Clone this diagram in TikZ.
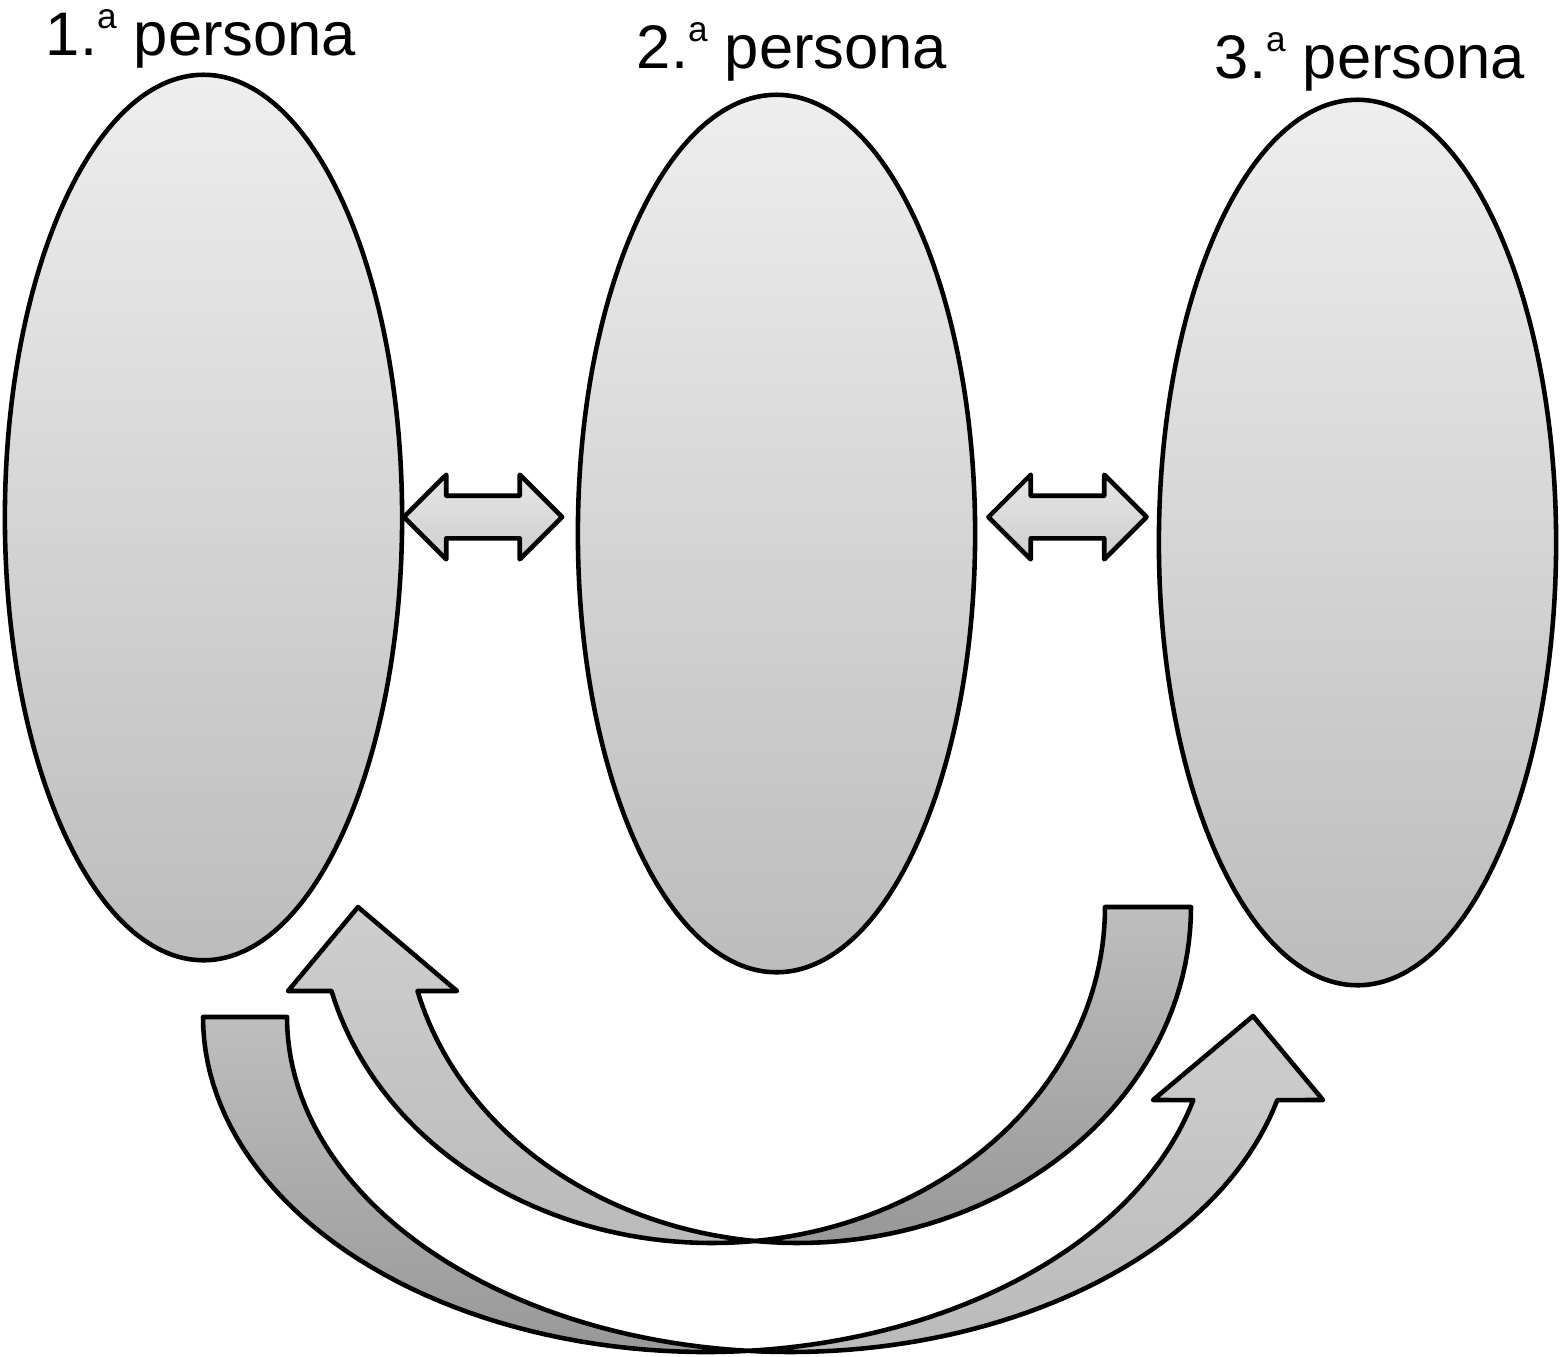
\documentclass[tikz,border=0pt]{standalone}
\usepackage{fontspec}
\setmainfont{Liberation Sans}
\usetikzlibrary{shapes.geometric,shapes.arrows}
\definecolor{cellipsetop}{RGB}{238,238,238}
\definecolor{cellipsebot}{RGB}{188,188,188}
\definecolor{clinktop}{RGB}{230,230,230}
\definecolor{clinkbot}{RGB}{205,205,205}
\definecolor{cbacktop}{RGB}{190,190,190}
\definecolor{cbackbot}{RGB}{152,152,152}
\definecolor{cfronttop}{RGB}{206,206,206}
\definecolor{cfrontbot}{RGB}{186,186,186}
\newcommand{\ordsup}{\raisebox{7.4pt}{\fontsize{10}{10}\selectfont a}}

\begin{document}
\begin{tikzpicture}[x=0.01cm,y=-0.01cm,line join=round,
  persona/.style={ellipse,draw,line width=1.3pt,inner sep=0pt,
    minimum width=3.97cm,minimum height=8.85cm,
    top color=cellipsetop,bottom color=cellipsebot},
  linkarrow/.style={double arrow,draw,line width=1.3pt,
    inner xsep=0pt,inner ysep=0.19cm,
    minimum height=1.58cm,minimum width=0.84cm,
    double arrow head extend=0.21cm,double arrow tip angle=90,
    top color=clinktop,bottom color=clinkbot},
  curve/.style={draw,line width=1.3pt},
  ptitle/.style={anchor=base,font=\fontsize{17.5}{20}\selectfont}]
\useasboundingbox (0,0) rectangle (1560,1356);
% ---------- the three persons ----------
\node[persona] (p1) at (203.5,517.5) {};
\node[persona,minimum height=8.77cm] (p2) at (776.5,533.5) {};
\node[persona] (p3) at (1357.5,542.5) {};
\node[ptitle] (t1) at (201,55) {1.\ordsup\ persona};
\node[ptitle] (t2) at (792,68) {2.\ordsup\ persona};
\node[ptitle] (t3) at (1370,78) {3.\ordsup\ persona};
% ---------- two-way links ----------
\node[linkarrow] (l12) at (483,517) {};
\node[linkarrow] (l23) at (1067.5,517) {};
% ---------- curved arrow 3 -> 1 (upper) ----------
\draw[curve,top color=cbacktop,bottom color=cbackbot]
  (1105,907) -- (1191,907)
  -- plot[domain=0:96.28,samples=50] ({798+393*cos(\x)},{907+336*sin(\x)})
  -- plot[domain=0:83.72,samples=50] ({712+393*cos(83.72-\x)},{907+336*sin(83.72-\x)})
  -- cycle;
\draw[curve,top color=cfronttop,bottom color=cfrontbot]
  plot[domain=83.72:165.52,samples=50] ({712+393*cos(\x)},{907+336*sin(\x)})
  -- (288,991) -- (358,907) -- (457,991)
  -- plot[domain=0:69.24,samples=50] ({798+393*cos(165.52-\x)},{907+336*sin(165.52-\x)})
  -- cycle;
% ---------- curved arrow 1 -> 3 (lower) ----------
\draw[curve,top color=cbacktop,bottom color=cbackbot]
  (203,1017) -- (287,1017)
  -- plot[domain=0:85.21,samples=50] ({790+503*cos(180-\x)},{1017+335*sin(180-\x)})
  -- plot[domain=85.21:180,samples=50] ({706+503*cos(\x)},{1017+335*sin(\x)})
  -- cycle;
\draw[curve,top color=cfronttop,bottom color=cfrontbot]
  plot[domain=0:70.86,samples=50] ({706+503*cos(85.21-\x)},{1017+335*sin(85.21-\x)})
  -- (1153,1100) -- (1253,1016) -- (1323,1100)
  -- plot[domain=14.35:94.79,samples=50] ({790+503*cos(\x)},{1017+335*sin(\x)})
  -- cycle;
\end{tikzpicture}
\end{document}
